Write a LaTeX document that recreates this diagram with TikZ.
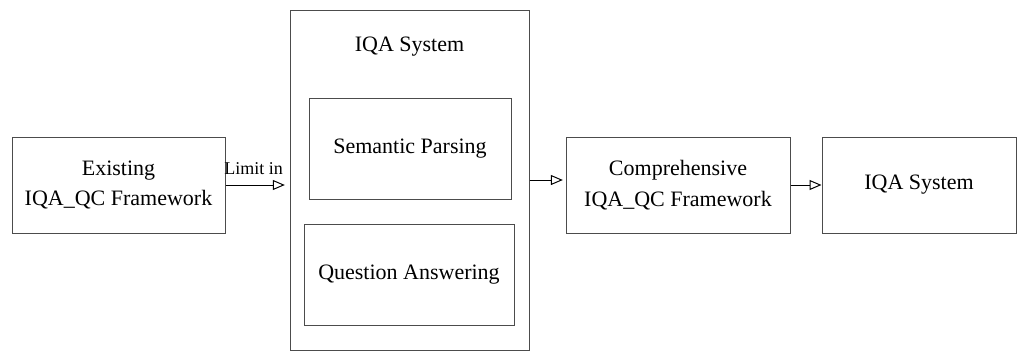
\documentclass[tikz,border=0pt]{standalone}
\usepackage{fontspec}
\setmainfont{Liberation Serif}
\usetikzlibrary{arrows.meta,positioning}
\begin{document}
\begin{tikzpicture}[x=0.75pt,y=-0.75pt]
			\tikzset{box/.style = {draw=black!70, line width=0.75pt, align=center, inner sep=0pt, font=\fontsize{16.5}{23}\selectfont}}
			\tikzset{flow/.style = {-{Triangle[open,length=9pt,width=7.5pt]}, line width=0.75pt}}
			\useasboundingbox (0,0) rectangle (1028,351);
			% outer system box
			\node[box, minimum width=179.25pt, minimum height=255pt] (sys) at (409.5,180) {};
			\node[font=\fontsize{16.5}{23}\selectfont] (title) at (409.5,47) {IQA System};
			\node[box, minimum width=151.5pt, minimum height=75.75pt] (sp) at (410,148.5) {Semantic Parsing};
			\node[box, minimum width=157.5pt, minimum height=75.75pt] (qa) at (409,274.5) {Question Answering};
			% chain
			\node[box, minimum width=159.75pt, minimum height=72pt] (exist) at (118.5,185) {Existing\\IQA\_QC Framework};
			\node[box, minimum width=168pt, minimum height=72pt] (comp) at (678,185) {Comprehensive\\IQA\_QC Framework};
			\node[box, minimum width=145.5pt, minimum height=72pt] (iqa) at (919,185) {IQA System};
			\draw[flow, shorten >=3.5pt] (exist.east) -- node[above=4pt, xshift=-3pt, font=\fontsize{13.5}{16}\selectfont] {Limit in} (exist.east -| sys.west);
			\draw[flow, shorten >=2pt] (sys.east) -- (sys.east -| comp.west);
			\draw[flow] (comp.east) -- (iqa.west);
		\end{tikzpicture}
\end{document}
